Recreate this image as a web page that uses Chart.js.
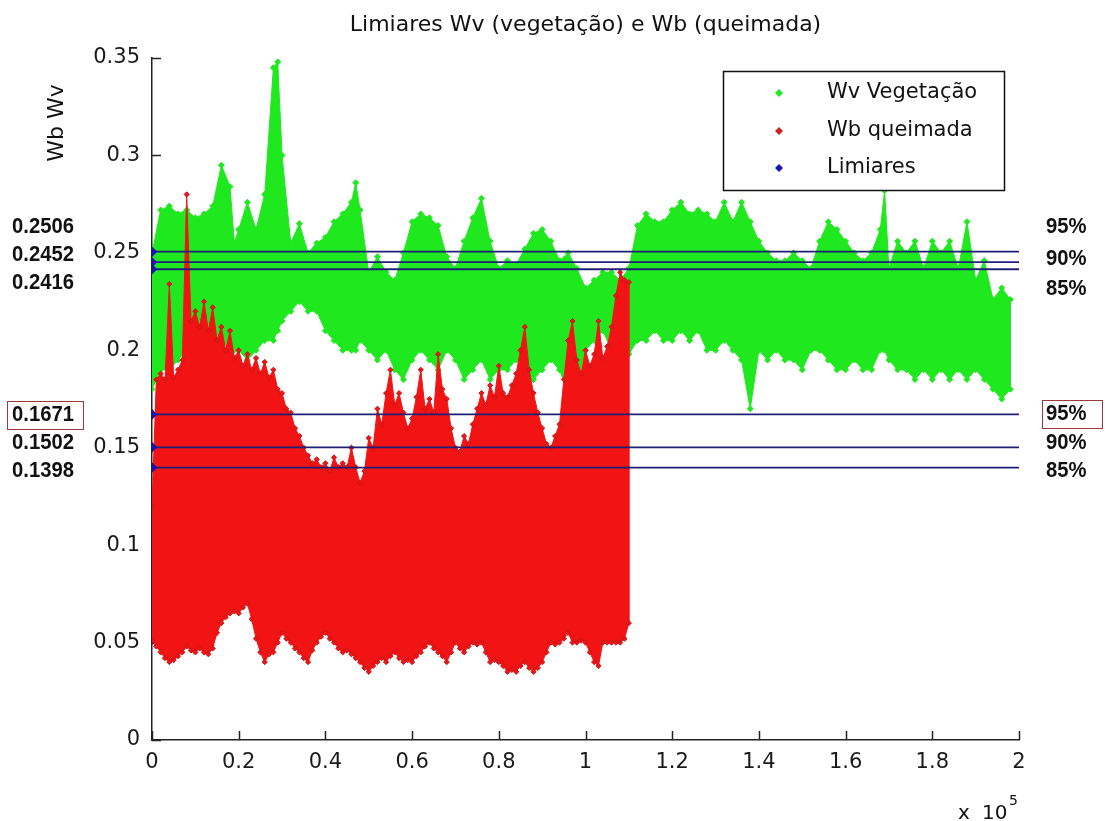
<!DOCTYPE html>
<html>
<head>
<meta charset="utf-8">
<title>Limiares Wv e Wb</title>
<script src="https://cdn.jsdelivr.net/npm/chart.js@4.4.1/dist/chart.umd.min.js"></script>
<style>
  html, body { margin: 0; padding: 0; background: #fff; }
  canvas { display: block; }
</style>
</head>
<body>
<canvas id="chart" width="1105" height="821"></canvas>
<script>
// sample index in units of 1e5; each series is kept as lower/upper envelope per x
const vegX = [
  0, 0.02, 0.04, 0.06, 0.08, 0.10, 0.12, 0.14, 0.16, 0.18,
  0.19, 0.20, 0.22, 0.24, 0.26, 0.28, 0.29, 0.30, 0.32, 0.34,
  0.36, 0.38, 0.40, 0.42, 0.44, 0.46, 0.47, 0.48, 0.50, 0.52,
  0.54, 0.56, 0.58, 0.60, 0.62, 0.64, 0.66, 0.68, 0.70, 0.72,
  0.74, 0.76, 0.78, 0.80, 0.82, 0.84, 0.86, 0.88, 0.90, 0.92,
  0.94, 0.96, 0.98, 1.00, 1.02, 1.04, 1.06, 1.08, 1.10, 1.12,
  1.14, 1.16, 1.18, 1.20, 1.22, 1.24, 1.26, 1.28, 1.30, 1.32,
  1.34, 1.36, 1.38, 1.40, 1.42, 1.44, 1.46, 1.48, 1.50, 1.52,
  1.54, 1.56, 1.58, 1.60, 1.62, 1.64, 1.66, 1.68, 1.69, 1.70,
  1.72, 1.74, 1.76, 1.78, 1.80, 1.82, 1.84, 1.86, 1.88, 1.90,
  1.92, 1.94, 1.96, 1.98
];
const vegHigh = [
  .250, .272, .274, .270, .272, .268, .270, .274, .295, .284,
  .255, .262, .276, .262, .280, .345, .348, .300, .255, .265,
  .250, .255, .258, .266, .270, .276, .286, .272, .240, .248,
  .240, .236, .250, .266, .270, .268, .264, .248, .242, .256,
  .268, .278, .256, .242, .246, .244, .252, .260, .262, .256,
  .246, .250, .242, .232, .236, .240, .240, .236, .242, .264,
  .270, .266, .266, .272, .276, .270, .272, .270, .266, .276,
  .266, .276, .266, .256, .250, .246, .246, .250, .246, .242,
  .256, .266, .262, .256, .250, .246, .250, .262, .282, .242,
  .256, .250, .256, .242, .256, .250, .256, .242, .266, .236,
  .246, .226, .232, .226
];
const vegLow = [
  .180, .190, .190, .195, .200, .200, .200, .200, .205, .200,
  .200, .200, .195, .200, .205, .205, .210, .215, .220, .225,
  .220, .220, .210, .205, .200, .200, .200, .205, .200, .195,
  .200, .190, .185, .195, .200, .195, .190, .200, .195, .185,
  .190, .195, .185, .190, .190, .195, .190, .185, .190, .195,
  .190, .178, .180, .200, .205, .210, .200, .200, .198, .205,
  .205, .210, .205, .205, .210, .205, .210, .200, .200, .205,
  .200, .195, .170, .200, .195, .200, .195, .195, .190, .200,
  .200, .195, .190, .190, .195, .190, .190, .200, .200, .195,
  .190, .190, .185, .190, .185, .190, .185, .190, .185, .190,
  .185, .180, .175, .180
];

const burnX = [
  0.00, 0.01, 0.02, 0.03, 0.04, 0.05, 0.06, 0.07, 0.08, 0.09,
  0.10, 0.11, 0.12, 0.13, 0.14, 0.15, 0.16, 0.17, 0.18, 0.19,
  0.20, 0.21, 0.22, 0.23, 0.24, 0.25, 0.26, 0.27, 0.28, 0.29,
  0.30, 0.31, 0.32, 0.33, 0.34, 0.35, 0.36, 0.37, 0.38, 0.39,
  0.40, 0.41, 0.42, 0.43, 0.44, 0.45, 0.46, 0.47, 0.48, 0.49,
  0.50, 0.51, 0.52, 0.53, 0.54, 0.55, 0.56, 0.57, 0.58, 0.59,
  0.60, 0.61, 0.62, 0.63, 0.64, 0.65, 0.66, 0.67, 0.68, 0.69,
  0.70, 0.71, 0.72, 0.73, 0.74, 0.75, 0.76, 0.77, 0.78, 0.79,
  0.80, 0.81, 0.82, 0.83, 0.84, 0.85, 0.86, 0.87, 0.88, 0.89,
  0.90, 0.91, 0.92, 0.93, 0.94, 0.95, 0.96, 0.97, 0.98, 0.99,
  1.00, 1.01, 1.02, 1.03, 1.04, 1.05, 1.06, 1.07, 1.08, 1.09,
  1.10
];
const burnHigh = [
  .120, .185, .188, .185, .234, .186, .190, .195, .280, .215,
  .220, .212, .225, .210, .222, .205, .212, .200, .210, .196,
  .200, .192, .198, .190, .196, .188, .194, .186, .190, .180,
  .178, .170, .168, .160, .156, .150, .146, .142, .144, .140,
  .142, .138, .145, .140, .142, .140, .150, .140, .132, .138,
  .155, .150, .170, .162, .178, .190, .172, .178, .168, .160,
  .165, .176, .190, .170, .175, .168, .198, .180, .175, .160,
  .150, .148, .156, .152, .162, .170, .178, .172, .182, .176,
  .192, .178, .176, .182, .188, .200, .212, .190, .178, .168,
  .160, .152, .150, .156, .162, .185, .205, .215, .195, .188,
  .200, .192, .198, .215, .196, .202, .212, .228, .240, .236,
  .235
];
const burnLow = [
  .051, .048, .045, .042, .040, .041, .043, .045, .048, .046,
  .045, .047, .045, .044, .047, .055, .060, .063, .065, .066,
  .065, .068, .070, .062, .052, .045, .040, .044, .045, .050,
  .055, .052, .050, .047, .045, .042, .040, .046, .050, .053,
  .055, .052, .050, .047, .045, .046, .044, .042, .040, .037,
  .035, .038, .040, .042, .040, .043, .045, .042, .040, .041,
  .040, .043, .045, .048, .050, .047, .045, .043, .040, .045,
  .050, .047, .045, .048, .050, .049, .050, .045, .040, .041,
  .040, .038, .035, .036, .035, .038, .040, .037, .035, .037,
  .040, .045, .050, .049, .050, .052, .055, .050, .050, .051,
  .050, .045, .040, .038, .050, .050, .050, .050, .050, .052,
  .060
];

const thresholdValues = [0.2506, 0.2452, 0.2416, 0.1671, 0.1502, 0.1398];
const thresholdPercents = ['95%', '90%', '85%', '95%', '90%', '85%'];

const xTicks = [0, 0.2, 0.4, 0.6, 0.8, 1, 1.2, 1.4, 1.6, 1.8, 2];
const xTickLabels = ['0', '0.2', '0.4', '0.6', '0.8', '1', '1.2', '1.4', '1.6', '1.8', '2'];
const yTicks = [0, 0.05, 0.1, 0.15, 0.2, 0.25, 0.3, 0.35];
const yTickLabels = ['0', '0.05', '0.1', '0.15', '0.2', '0.25', '0.3', '0.35'];

const seriesNames = ['Wv Vegeta\u00e7\u00e3o', 'Wb queimada', 'Limiares'];

const GREEN = '#1fe81f';
const RED = '#f21414';
const RED_EDGE = '#c41616';
const NAVY = '#1f1f78';
const BLUE = '#1212b8';
const FONT = '"DejaVu Sans", sans-serif';
const LABEL_FONT = '"Liberation Sans", Arial, sans-serif';

// left/right text positions for the threshold annotations
const leftLabelY = [227, 255, 283, 415, 443, 471];
const rightLabelY = [227, 259, 289, 414, 443, 471];

// closed outline: upper edge left->right, then lower edge back
function envelope(xs, low, high) {
  const top = xs.map((x, i) => ({ x: x, y: high[i] }));
  const bottom = xs.map((x, i) => ({ x: x, y: low[i] })).reverse();
  return top.concat(bottom);
}

const datasets = [];
thresholdValues.forEach((v, i) => {
  datasets.push({
    label: i === 0 ? seriesNames[2] : '',
    data: [{ x: 0, y: v }, { x: 2, y: v }],
    showLine: true,
    borderColor: NAVY,
    borderWidth: 1.8,
    pointStyle: 'rectRot',
    pointRadius: ctx => ctx.dataIndex === 0 ? 4 : 0,
    pointBackgroundColor: BLUE,
    pointBorderColor: BLUE,
    order: 0
  });
});
datasets.push({
  label: seriesNames[1],
  data: envelope(burnX, burnLow, burnHigh),
  showLine: true,
  fill: 'shape',
  backgroundColor: RED,
  borderColor: RED,
  borderWidth: 1,
  tension: 0,
  pointStyle: 'rectRot',
  pointRadius: 2.6,
  pointBackgroundColor: RED,
  pointBorderColor: RED_EDGE,
  pointBorderWidth: 1,
  order: 1
});
datasets.push({
  label: seriesNames[0],
  data: envelope(vegX, vegLow, vegHigh),
  showLine: true,
  fill: 'shape',
  backgroundColor: GREEN,
  borderColor: GREEN,
  borderWidth: 1,
  tension: 0,
  pointStyle: 'rectRot',
  pointRadius: 3,
  pointBackgroundColor: GREEN,
  pointBorderColor: GREEN,
  order: 2
});

function diamond(ctx, x, y, r, fill) {
  ctx.beginPath();
  ctx.moveTo(x, y - r);
  ctx.lineTo(x + r, y);
  ctx.lineTo(x, y + r);
  ctx.lineTo(x - r, y);
  ctx.closePath();
  ctx.fillStyle = fill;
  ctx.fill();
}

function boldLabel(ctx, text, x, y) {
  ctx.save();
  ctx.translate(x, y);
  ctx.scale(0.92, 1);
  ctx.font = 'bold 22px ' + LABEL_FONT;
  ctx.fillStyle = '#111';
  ctx.textAlign = 'left';
  ctx.textBaseline = 'middle';
  ctx.fillText(text, 0, 0);
  ctx.restore();
}

const decorations = {
  id: 'decorations',
  beforeDatasetsDraw(chart) {
    const ctx = chart.ctx;
    const area = chart.chartArea;
    const xs = chart.scales.x, ys = chart.scales.y;
    ctx.save();
    ctx.strokeStyle = '#222';
    ctx.lineWidth = 1.5;
    ctx.beginPath();
    xTicks.forEach(v => {
      const px = Math.round(xs.getPixelForValue(v)) + 0.5;
      ctx.moveTo(px, area.bottom);
      ctx.lineTo(px, area.bottom - 9);
    });
    yTicks.forEach(v => {
      const py = Math.round(ys.getPixelForValue(v)) + 0.5;
      ctx.moveTo(area.left, py);
      ctx.lineTo(area.left + 9, py);
    });
    ctx.stroke();
    ctx.restore();
  },
  afterDraw(chart) {
    const ctx = chart.ctx;
    const area = chart.chartArea;
    ctx.save();

    // title
    ctx.fillStyle = '#111';
    ctx.font = '22px ' + FONT;
    ctx.textAlign = 'center';
    ctx.textBaseline = 'middle';
    ctx.fillText('Limiares Wv (vegeta\u00e7\u00e3o) e Wb (queimada)', (area.left + area.right) / 2, 25);

    // y axis title
    ctx.save();
    ctx.translate(57, 123);
    ctx.rotate(-Math.PI / 2);
    ctx.font = '22px ' + FONT;
    ctx.fillText('Wb Wv', 0, 0);
    ctx.restore();

    // x axis exponent
    ctx.textAlign = 'left';
    ctx.textBaseline = 'alphabetic';
    ctx.font = '20px ' + FONT;
    ctx.fillText('x', 958, 819);
    ctx.fillText('10', 982, 819);
    ctx.font = '14px ' + FONT;
    ctx.fillText('5', 1009, 805);

    // threshold annotations
    thresholdValues.forEach((v, i) => {
      boldLabel(ctx, v.toFixed(4), 12, leftLabelY[i]);
      boldLabel(ctx, thresholdPercents[i], 1046, rightLabelY[i]);
    });
    ctx.strokeStyle = '#9c3a3a';
    ctx.lineWidth = 1;
    ctx.strokeRect(7.5, 401.5, 76, 28);
    ctx.strokeRect(1042.5, 400.5, 60, 28);

    // legend
    const box = { left: 723, top: 71, right: 1004, bottom: 190 };
    ctx.fillStyle = '#fff';
    ctx.fillRect(box.left, box.top, box.right - box.left, box.bottom - box.top);
    ctx.strokeStyle = '#111';
    ctx.lineWidth = 1.5;
    ctx.strokeRect(box.left + 0.5, box.top + 0.5, box.right - box.left, box.bottom - box.top);
    const legendColors = [GREEN, '#cc2222', BLUE];
    const rows = [93, 131, 168];
    ctx.font = '21px ' + FONT;
    ctx.textBaseline = 'middle';
    seriesNames.forEach((name, i) => {
      diamond(ctx, 779, rows[i], 4, legendColors[i]);
      ctx.fillStyle = '#111';
      ctx.fillText(name, 827, rows[i]);
    });
    ctx.restore();
  }
};

new Chart(document.getElementById('chart'), {
  type: 'scatter',
  data: { datasets: datasets },
  options: {
    responsive: false,
    animation: false,
    devicePixelRatio: 1,
    layout: { padding: { left: 0, right: 86, top: 58, bottom: 0 } },
    plugins: {
      legend: { display: false },
      tooltip: { enabled: false },
      title: { display: false }
    },
    scales: {
      x: {
        type: 'linear',
        min: 0,
        max: 2,
        afterFit: s => { s.height = 81; },
        afterBuildTicks: s => { s.ticks = xTicks.map(v => ({ value: v })); },
        grid: { display: false, drawTicks: false },
        border: { display: true, color: '#222', width: 1.5 },
        ticks: {
          padding: 10,
          color: '#1a1a1a',
          font: { family: FONT, size: 21 },
          maxRotation: 0,
          callback: (v, i) => xTickLabels[i]
        }
      },
      y: {
        type: 'linear',
        min: 0,
        max: 0.35,
        afterFit: s => { s.width = 152; },
        afterBuildTicks: s => { s.ticks = yTicks.map(v => ({ value: v })); },
        grid: { display: false, drawTicks: false },
        border: { display: true, color: '#222', width: 1.5 },
        ticks: {
          padding: 12,
          color: '#1a1a1a',
          font: { family: FONT, size: 21 },
          callback: (v, i) => yTickLabels[i]
        }
      }
    }
  },
  plugins: [decorations]
});
</script>
</body>
</html>
